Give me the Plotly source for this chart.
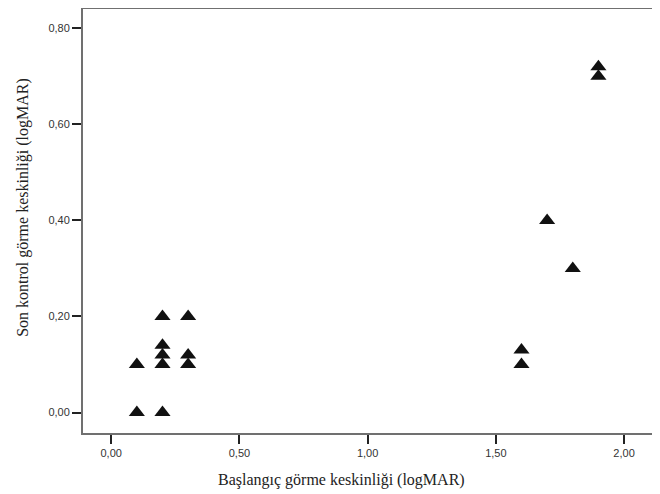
import plotly.graph_objects as go

baslangic = [0.1, 0.2, 0.1, 0.2, 0.2, 0.2, 0.2, 0.3, 0.3, 0.3, 1.6, 1.6, 1.7, 1.8, 1.9, 1.9]
son_kontrol = [0.0, 0.0, 0.1, 0.1, 0.12, 0.14, 0.2, 0.2, 0.1, 0.12, 0.1, 0.13, 0.4, 0.3, 0.7, 0.72]

x_ticks = [0, 0.5, 1.0, 1.5, 2.0]
x_tick_labels = ["0,00", "0,50", "1,00", "1,50", "2,00"]
y_ticks = [0, 0.2, 0.4, 0.6, 0.8]
y_tick_labels = ["0,00", "0,20", "0,40", "0,60", "0,80"]

x_title = "Başlangıç görme keskinliği (logMAR)"
y_title = "Son kontrol görme keskinliği (logMAR)"

fig = go.Figure()
fig.add_trace(go.Scatter(
    x=baslangic, y=son_kontrol, mode="markers",
    marker=dict(symbol="triangle-up", size=14, color="#111111", line=dict(width=0)),
    showlegend=False, hoverinfo="x+y",
))

axis_common = dict(
    showgrid=False, zeroline=False, showline=True, linecolor="#707070", linewidth=2,
    mirror=True, ticks="outside", ticklen=9, tickwidth=1.5, tickcolor="#222222",
    tickfont=dict(family="Liberation Sans, Arial, sans-serif", size=11, color="#333333"),
    automargin=False,
)

fig.update_xaxes(range=[-0.110, 2.109], tickvals=x_ticks, ticktext=x_tick_labels, **axis_common)
fig.update_yaxes(range=[-0.0425, 0.840], tickvals=y_ticks, ticktext=y_tick_labels, **axis_common)

title_font = dict(family="Liberation Serif, Times New Roman, serif", size=16, color="#222222")
fig.add_annotation(text=x_title, xref="paper", yref="paper", x=0.455, y=0.0,
                   yshift=-47, showarrow=False, font=title_font,
                   xanchor="center", yanchor="middle")
fig.add_annotation(text=y_title, xref="paper", yref="paper", x=0, y=0.531,
                   xshift=-60, showarrow=False, font=title_font, textangle=-90,
                   xanchor="center", yanchor="middle")

fig.update_layout(
    width=652, height=486,
    margin=dict(l=75, r=8, t=1, b=61),
    paper_bgcolor="white", plot_bgcolor="white",
)

fig.write_html("out.html")
